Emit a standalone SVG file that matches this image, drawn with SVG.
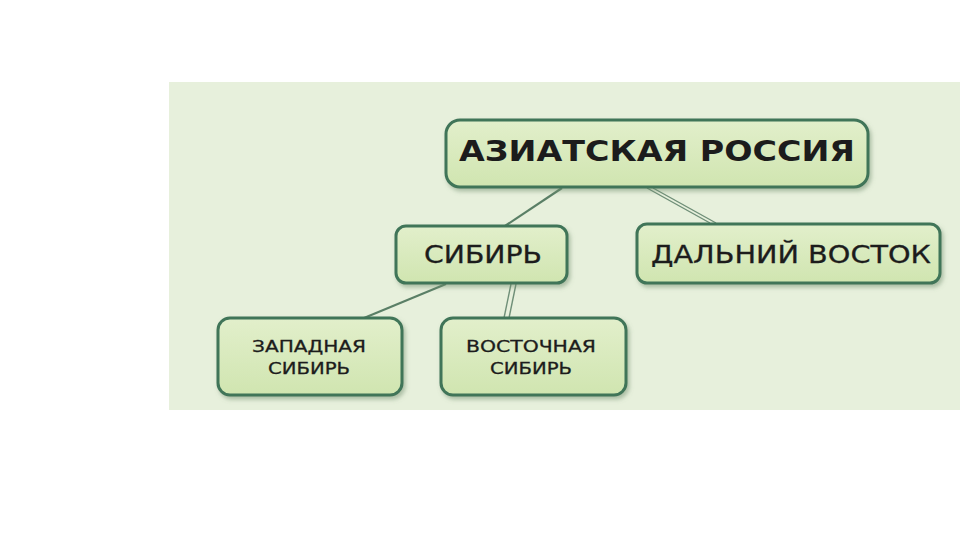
<svg xmlns="http://www.w3.org/2000/svg" width="960" height="540" viewBox="0 0 960 540">
<defs>
<linearGradient id="g" x1="0" y1="0" x2="0" y2="1">
<stop offset="0" stop-color="#e2efcb"/>
<stop offset="1" stop-color="#d0e5b0"/>
</linearGradient>
<filter id="sh" x="-10%" y="-10%" width="130%" height="140%">
<feDropShadow dx="2" dy="3" stdDeviation="2" flood-color="#6d8a6a" flood-opacity="0.5"/>
</filter>
</defs>
<style>
.box{fill:url(#g);stroke:#3f7458;stroke-width:3;filter:url(#sh)}
.t{font-family:"DejaVu Sans","Noto Sans",sans-serif;fill:#1c1c1c;text-anchor:middle}
.s{stroke:#1c1c1c;stroke-width:0.3}
.c{stroke:#5a7f66;stroke-width:2.2;fill:none}
.c2{stroke:#6f8f78;stroke-width:1.4;fill:none}
</style>
<rect width="960" height="540" fill="#ffffff"/>
<rect x="169" y="82" width="791" height="328" fill="#e7f0dc"/>
<g id="connectors">
<line class="c" x1="562" y1="188" x2="505" y2="226"/>
<line class="c2" x1="647" y1="188" x2="710" y2="223"/>
<line class="c2" x1="653" y1="188" x2="716" y2="223"/>
<line class="c" x1="446" y1="284" x2="364" y2="318"/>
<line class="c2" x1="511" y1="284" x2="504" y2="318"/>
<line class="c2" x1="516" y1="284" x2="509" y2="318"/>
</g>
<g id="asian-russia">
<rect class="box" x="446" y="120" width="422" height="67" rx="14"/>
<text class="t" x="657" y="161" font-size="29" font-weight="bold" textLength="396" lengthAdjust="spacingAndGlyphs">АЗИАТСКАЯ РОССИЯ</text>
</g>
<g id="siberia">
<rect class="box" x="396" y="226" width="171" height="57" rx="10"/>
<text class="t s" x="483" y="263" font-size="24" textLength="118" lengthAdjust="spacingAndGlyphs">СИБИРЬ</text>
</g>
<g id="far-east">
<rect class="box" x="637" y="224" width="303" height="59" rx="10"/>
<text class="t s" x="791" y="263" font-size="24" textLength="280" lengthAdjust="spacingAndGlyphs">ДАЛЬНИЙ ВОСТОК</text>
</g>
<g id="west-siberia">
<rect class="box" x="218" y="318" width="184" height="77" rx="12"/>
<text class="t s" x="309" y="352" font-size="16" textLength="114" lengthAdjust="spacingAndGlyphs">ЗАПАДНАЯ</text>
<text class="t s" x="309" y="374" font-size="16" textLength="82" lengthAdjust="spacingAndGlyphs">СИБИРЬ</text>
</g>
<g id="east-siberia">
<rect class="box" x="441" y="318" width="185" height="77" rx="12"/>
<text class="t s" x="531" y="352" font-size="16" textLength="130" lengthAdjust="spacingAndGlyphs">ВОСТОЧНАЯ</text>
<text class="t s" x="531" y="374" font-size="16" textLength="82" lengthAdjust="spacingAndGlyphs">СИБИРЬ</text>
</g>
</svg>
